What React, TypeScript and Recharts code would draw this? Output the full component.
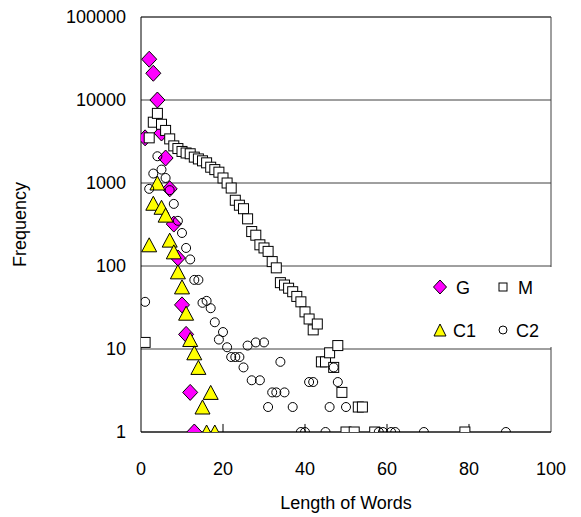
import React from 'react';
import {
  ScatterChart,
  Scatter,
  XAxis,
  YAxis,
  CartesianGrid,
  ReferenceLine,
  Legend,
} from 'recharts';

// ---- data ----
const seriesNames = ['G', 'M', 'C1', 'C2'];

const gLength = [1, 2, 3, 4, 5, 6, 7, 8, 9, 10, 11, 12, 13];
const gFreq = [3500, 31000, 21000, 10000, 4000, 2000, 850, 320, 125, 34, 15, 3, 1];

const mLength = [
  1, 2, 3, 4, 5, 6, 7, 8, 9, 10, 11, 12, 13, 14, 15, 16, 17, 18, 19, 20, 21, 22, 23, 24, 25,
  26, 27, 28, 29, 30, 31, 32, 33, 34, 35, 36, 37, 38, 39, 40, 41, 42, 43, 44, 45, 46, 47, 48,
  49, 50, 52, 53, 54, 57, 79,
];
const mFreq = [
  12, 3500, 5400, 6900, 5100, 4300, 3400, 2800, 2600, 2400, 2300, 2250, 2050, 1950, 1850, 1750,
  1550, 1450, 1350, 1150, 1000, 870, 620, 540, 490, 370, 260, 235, 180, 165, 150, 113, 95, 63,
  59, 54, 49, 43, 37, 28, 23, 17, 20, 7, 7, 9, 6, 11, 3, 1, 1, 2, 2, 1, 1,
];

const c1Length = [2, 3, 4, 5, 6, 7, 8, 9, 10, 11, 12, 13, 14, 15, 16, 17, 18];
const c1Freq = [180, 570, 1000, 510, 410, 205, 148, 85, 56, 27, 13, 9, 6, 2, 1, 3, 1];

const c2Length = [
  1, 2, 3, 4, 5, 6, 7, 8, 9, 10, 11, 12, 13, 14, 15, 16, 17, 18, 19, 20, 21, 22, 23, 24, 25,
  26, 27, 28, 29, 30, 31, 32, 33, 34, 35, 37, 39, 40, 41, 42, 45, 46, 47, 48, 50, 58, 59, 61,
  62, 69, 89,
];
const c2Freq = [
  37, 850, 1300, 2100, 1450, 1150, 820, 560, 350, 250, 165, 120, 68, 68, 36, 38, 31, 21, 13, 16,
  10.5, 8, 8, 8, 6, 11, 4.2, 12, 4.2, 12, 2, 3, 3, 7, 3, 2, 1, 1, 4, 4, 1, 2, 6, 4, 2, 1, 1, 1,
  1, 1, 1,
];

const xTicks = [0, 20, 40, 60, 80, 100];
const yTicks = [1, 10, 100, 1000, 10000, 100000];
const innerTickX = [20, 40, 60, 80];

const toPoints = (xs: number[], ys: number[]) => xs.map((x, i) => ({ x, y: ys[i] }));
const gData = toPoints(gLength, gFreq);
const mData = toPoints(mLength, mFreq);
const c1Data = toPoints(c1Length, c1Freq);
const c2Data = toPoints(c2Length, c2Freq);

const FONT = '"Liberation Sans", Arial, Helvetica, sans-serif';
const MAGENTA = '#FF00FF';
const YELLOW = '#FFFF00';
const GRID = '#404040';

// ---- markers ----
const diamondPath = (cx: number, cy: number, w: number, h: number) =>
  `M${cx},${cy - h}L${cx + w},${cy}L${cx},${cy + h}L${cx - w},${cy}Z`;
const trianglePath = (cx: number, cy: number, w: number, h: number) =>
  `M${cx},${cy - h / 2}L${cx + w / 2},${cy + h / 2}L${cx - w / 2},${cy + h / 2}Z`;

const DiamondShape = (p: any) => (
  <path d={diamondPath(p.cx, p.cy, 7.5, 8)} fill={MAGENTA} stroke="#000" strokeWidth={1} />
);
const SquareShape = (p: any) => (
  <rect x={p.cx - 5} y={p.cy - 5} width={10} height={10} fill="#fff" stroke="#000" strokeWidth={1} />
);
const TriangleShape = (p: any) => (
  <path d={trianglePath(p.cx, p.cy, 15, 14)} fill={YELLOW} stroke="#000" strokeWidth={1} />
);
const CircleShape = (p: any) => (
  <circle cx={p.cx} cy={p.cy} r={4.5} fill="none" stroke="#000" strokeWidth={1} />
);

// ---- labels ----
const XTitle = (props: any) => {
  const vb = props.viewBox || { x: 141, y: 432, width: 410, height: 85 };
  return (
    <text
      x={vb.x + vb.width / 2}
      y={503}
      textAnchor="middle"
      dominantBaseline="central"
      fontFamily={FONT}
      fontSize={18}
      fill="#000"
    >
      Length of Words
    </text>
  );
};

const YTitle = (props: any) => {
  const vb = props.viewBox || { x: 0, y: 17, width: 141, height: 415 };
  const cy = vb.y + vb.height / 2;
  return (
    <text
      x={20}
      y={cy}
      transform={`rotate(-90, 20, ${cy})`}
      textAnchor="middle"
      dominantBaseline="central"
      fontFamily={FONT}
      fontSize={18}
      fill="#000"
    >
      Frequency
    </text>
  );
};

const LegendBox = () => (
  <svg width={150} height={80} style={{ display: 'block' }}>
    <path d={diamondPath(30, 20, 6.5, 7)} fill={MAGENTA} stroke="#000" strokeWidth={1} />
    <text x={46} y={21} dominantBaseline="central" fontFamily={FONT} fontSize={18} fill="#000">
      {seriesNames[0]}
    </text>
    <rect x={89} y={16} width={8} height={8} fill="#fff" stroke="#000" strokeWidth={1} />
    <text x={108} y={21} dominantBaseline="central" fontFamily={FONT} fontSize={18} fill="#000">
      {seriesNames[1]}
    </text>
    <path d={trianglePath(30, 63, 12, 12)} fill={YELLOW} stroke="#000" strokeWidth={1} />
    <text x={43} y={64} dominantBaseline="central" fontFamily={FONT} fontSize={18} fill="#000">
      {seriesNames[2]}
    </text>
    <circle cx={93} cy={63} r={4} fill="none" stroke="#000" strokeWidth={1} />
    <text x={106} y={64} dominantBaseline="central" fontFamily={FONT} fontSize={18} fill="#000">
      {seriesNames[3]}
    </text>
  </svg>
);

export default function App() {
  return (
    <div style={{ position: 'absolute', left: 0, top: 0, width: 581, height: 517, background: '#fff' }}>
      <ScatterChart width={581} height={517} margin={{ top: 17, right: 30, bottom: 0, left: 0 }}>
        <CartesianGrid horizontal vertical={false} stroke={GRID} strokeDasharray="" />
        <XAxis
          type="number"
          dataKey="x"
          domain={[0, 100]}
          ticks={xTicks}
          allowDataOverflow
          height={85}
          tickLine={false}
          tickSize={0}
          tickMargin={30}
          axisLine={{ stroke: '#000' }}
          tick={{ fontSize: 18, fill: '#000', fontFamily: FONT }}
          label={XTitle}
        />
        <YAxis
          type="number"
          dataKey="y"
          scale="log"
          domain={[1, 100000]}
          ticks={yTicks}
          allowDataOverflow
          width={141}
          tickLine={false}
          tickSize={0}
          tickMargin={15}
          axisLine={{ stroke: '#000' }}
          tick={{ fontSize: 18, fill: '#000', fontFamily: FONT }}
          label={YTitle}
        />
        <ReferenceLine y={100000} stroke={GRID} />
        <ReferenceLine x={100} stroke={GRID} />
        {innerTickX.map((t) => (
          <ReferenceLine
            key={t}
            segment={[
              { x: t, y: 1 },
              { x: t, y: 1.25 },
            ]}
            stroke="#000"
          />
        ))}
        <Scatter name={seriesNames[0]} data={gData} shape={DiamondShape} isAnimationActive={false} />
        <Scatter name={seriesNames[1]} data={mData} shape={SquareShape} isAnimationActive={false} />
        <Scatter name={seriesNames[2]} data={c1Data} shape={TriangleShape} isAnimationActive={false} />
        <Scatter name={seriesNames[3]} data={c2Data} shape={CircleShape} isAnimationActive={false} />
        <Legend
          layout="horizontal"
          verticalAlign="middle"
          align="center"
          content={LegendBox}
          wrapperStyle={{
            position: 'absolute',
            left: 410,
            top: 267,
            width: 150,
            height: 80,
            background: '#fff',
            margin: 0,
            padding: 0,
            lineHeight: 0,
          }}
        />
      </ScatterChart>
    </div>
  );
}
